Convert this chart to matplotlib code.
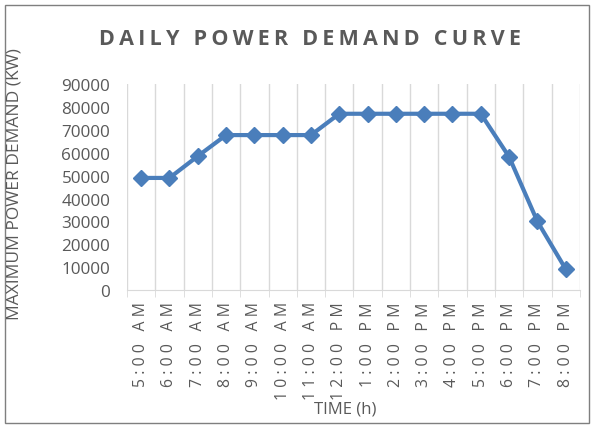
import numpy as np
import matplotlib.pyplot as plt
from matplotlib.patches import Rectangle

times = ['5:00 AM', '6:00 AM', '7:00 AM', '8:00 AM', '9:00 AM', '10:00 AM',
         '11:00 AM', '12:00 PM', '1:00 PM', '2:00 PM', '3:00 PM', '4:00 PM',
         '5:00 PM', '6:00 PM', '7:00 PM', '8:00 PM']
demand = [49000, 49000, 58500, 67700, 67700, 67700, 67700, 77000,
          77000, 77000, 77000, 77000, 77000, 58200, 30000, 9200]
yticks = list(range(0, 90001, 10000))

plt.rcParams['font.family'] = ['Open Sans', 'DejaVu Sans']
grey = '#595959'


def spaced(s, gap='\u2009'):
    # emulate Excel's letter spacing
    return gap.join(s)


fig = plt.figure(figsize=(5.92, 4.27), dpi=100)
ax = fig.add_axes([0.2145, 0.318, 0.765, 0.483])

x = np.arange(len(times))
ax.plot(x, demand, color='#4a7ebb', linewidth=3, marker='D', markersize=8.5, zorder=3)

ax.set_xlim(-0.5, len(times) - 0.5)
ax.set_ylim(0, 90000)
ax.set_yticks(yticks)
ax.set_yticklabels([str(v) for v in yticks], fontsize=12.3, color=grey)
ax.set_xticks(x)
ax.set_xticklabels([spaced(t, '\u2009\u200a') for t in times], rotation=90,
                   fontsize=11.3, color=grey)
ax.set_xticks(np.arange(-0.5, len(times)), minor=True)
ax.grid(True, which='minor', axis='x', color='#d9d9d9', linewidth=1)
ax.tick_params(axis='y', which='major', length=0, pad=12)
ax.tick_params(axis='x', which='major', length=0, pad=8)
ax.tick_params(axis='x', which='minor', length=5, color='#d9d9d9')
for side in ['top', 'right', 'left']:
    ax.spines[side].set_visible(False)
ax.spines['bottom'].set_color('#d9d9d9')

fig.text(0.583, 0.04, 'TIME (h)', fontsize=12, color=grey, ha='center', va='center')
fig.text(0.024, 0.57, 'MAXIMUM POWER DEMAND (KW)', rotation=90, fontsize=12.5,
         color=grey, ha='center', va='center')
fig.text(0.524, 0.908, spaced('DAILY POWER DEMAND CURVE'), fontsize=15.5,
         fontweight='bold', color=grey, ha='center', va='center')

fig.patches.append(Rectangle((0.009, 0.007), 0.986, 0.979, transform=fig.transFigure,
                             fill=False, edgecolor='#7f7f7f', linewidth=1))

fig.savefig('out.png', dpi=100)
